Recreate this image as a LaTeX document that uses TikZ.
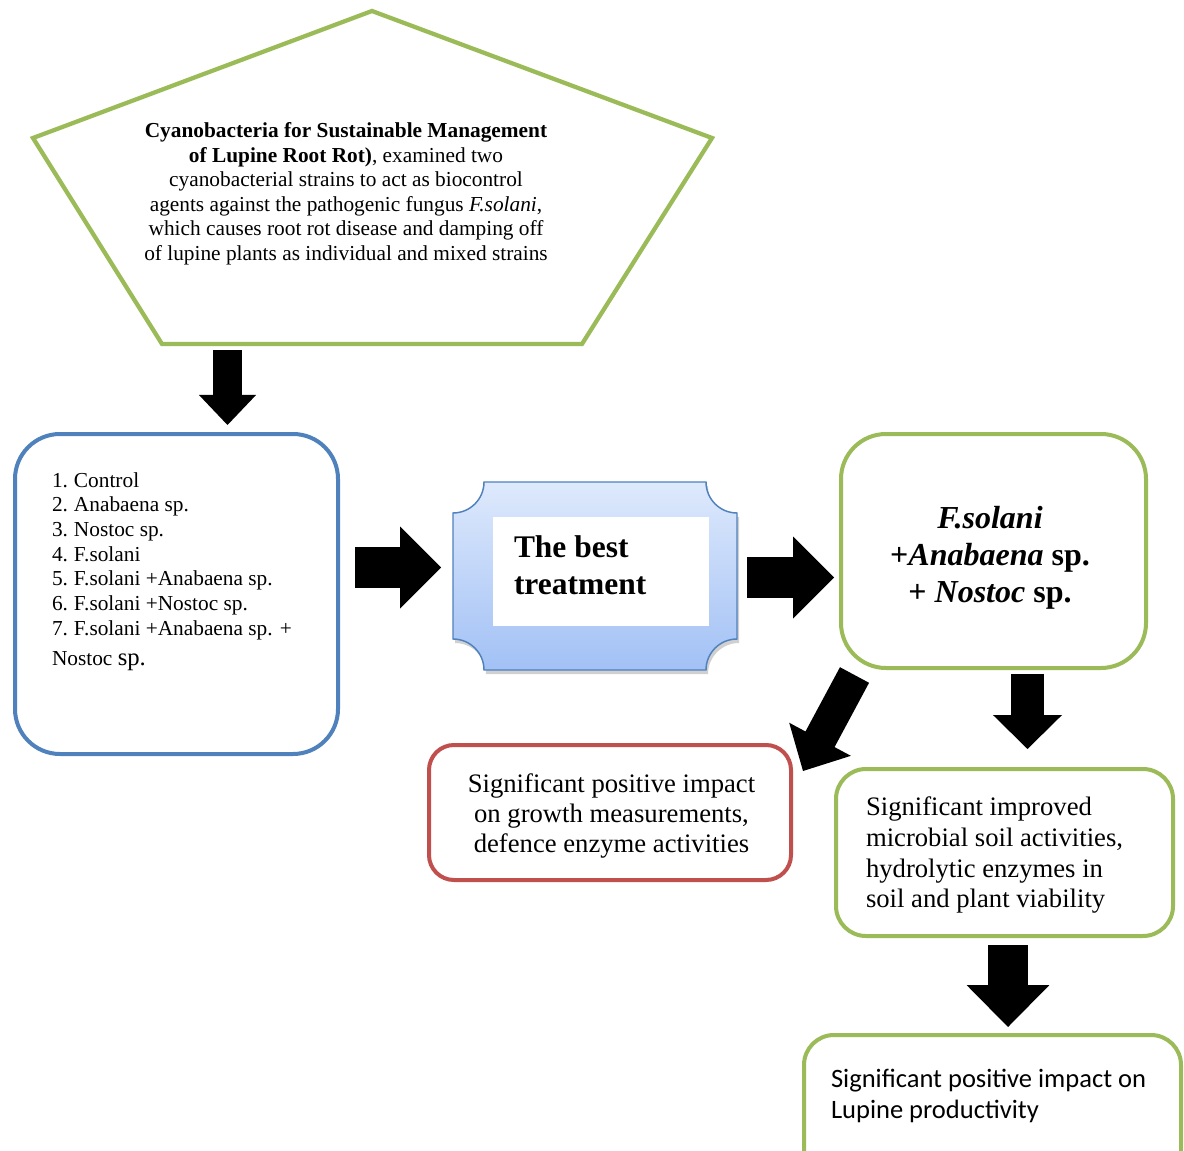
\documentclass[tikz,border=0pt]{standalone}
\usepackage{fontspec}
\setmainfont{Liberation Serif}
\newfontfamily\calibrifont{Carlito}
\usetikzlibrary{calc,shadows}
\definecolor{cgreen}{HTML}{9BBB59}
\definecolor{cblue}{HTML}{4F81BD}
\definecolor{cred}{HTML}{C0504D}
\definecolor{ptop}{HTML}{DEE9FC}
\definecolor{pbot}{HTML}{A2C1F5}
% start, tip, shaft width, half head width, head length
\newcommand{\blkarrow}[5]{%
  \coordinate (fa-h) at ($(#2)!#5!(#1)$);
  \fill[black] (#2) -- ($(fa-h)!#4!90:(#2)$) -- ($(fa-h)!#4!-90:(#2)$) -- cycle;
  \draw[line width=#3, black] (#1) -- ($(fa-h)!-0.6pt!(#1)$);
}
\begin{document}
\begin{tikzpicture}[x=0.75pt,y=-0.75pt,
  txt/.style={inner sep=0pt, outer sep=0pt},
  gbox/.style={draw=cgreen, line width=3pt, inner sep=0pt},
  bbox/.style={draw=cblue, line width=3pt, inner sep=0pt},
  rbox/.style={draw=cred, line width=3pt, inner sep=0pt},
  pent/.style={draw=cgreen, line width=3.2pt, line join=miter}]
\useasboundingbox (0,0) rectangle (1184,1151);
\clip (0,0) rectangle (1184,1151);
\fill[white] (0,0) rectangle (1184,1151);

% pentagon
\draw[pent] (372,11) -- (712,138) -- (582,344) -- (162,344) -- (33,138) -- cycle;
\node[txt, anchor=north, align=center, font=\fontsize{16}{18.4}\selectfont] (intro) at (346,122.5)
 {\textbf{Cyanobacteria for Sustainable Management}\\
  \textbf{of Lupine Root Rot)}, examined two\\
  cyanobacterial strains to act as biocontrol\\
  agents against the pathogenic fungus \textit{F.solani},\\
  which causes root rot disease and damping off\\
  of lupine plants as individual and mixed strains};

% list box
\node[bbox, minimum width=242.25pt, minimum height=240pt, rounded corners=33.75pt] (list) at (176.5,594) {};
\node[txt, anchor=north west, align=left, font=\fontsize{16}{18.5}\selectfont] (listtxt) at (52,472.5)
 {\makebox[16.5pt][l]{1.}Control\\
  \makebox[16.5pt][l]{2.}Anabaena sp.\\
  \makebox[16.5pt][l]{3.}Nostoc sp.\\
  \makebox[16.5pt][l]{4.}F.solani\\
  \makebox[16.5pt][l]{5.}F.solani +Anabaena sp.\\
  \makebox[16.5pt][l]{6.}F.solani +Nostoc sp.\\
  \makebox[16.5pt][l]{7.}F.solani +Anabaena sp. +\\[4pt]
  Nostoc {\fontsize{18.5}{20}\selectfont sp.}};

% best treatment plaque
\path[draw=cblue, line width=1.1pt, top color=ptop, bottom color=pbot,
      drop shadow={shadow xshift=1.5pt, shadow yshift=-3pt, opacity=0.3, fill=black!60}]
  (484,482) -- (706,482) .. controls (706,499.1) and (719.9,513) .. (737,513)
  -- (737,639) .. controls (719.9,639) and (706,652.9) .. (706,670)
  -- (484,670) .. controls (484,652.9) and (470.1,639) .. (453,639)
  -- (453,513) .. controls (470.1,513) and (484,499.1) .. (484,482) -- cycle;
\node[fill=white, inner sep=0pt, minimum width=162pt, minimum height=81.75pt] (bestin) at (601,571.5) {};
\node[txt, anchor=north west, align=left, font=\fontsize{23.6}{27.75}\selectfont\bfseries] (besttxt) at (514,535.5)
 {The best\\treatment};

% result box
\node[gbox, minimum width=228.75pt, minimum height=175.5pt, rounded corners=33.75pt] (res) at (993.5,551) {};
\node[txt, anchor=north, align=center, font=\fontsize{24}{27.75}\selectfont\bfseries] (restxt) at (990,506)
 {\textit{F.solani}\\+\textit{Anabaena} sp.\\+ \textit{Nostoc} sp.};

% red box
\node[rbox, minimum width=271.5pt, minimum height=101.25pt, rounded corners=18.75pt] (growth) at (610,812.5) {};
\node[txt, anchor=north, align=center, font=\fontsize{20}{22.5}\selectfont] (growthtxt) at (611.5,774)
 {Significant positive impact\\on growth measurements,\\defence enzyme activities};

% soil box
\node[gbox, minimum width=252.75pt, minimum height=125.25pt, rounded corners=22.5pt] (soil) at (1004.5,852.5) {};
\node[txt, anchor=north west, align=left, font=\fontsize{20}{23}\selectfont] (soiltxt) at (866,797)
 {Significant improved\\microbial soil activities,\\hydrolytic enzymes in\\soil and plant viability};

% productivity box
\node[gbox, minimum width=282.75pt, minimum height=108.75pt, rounded corners=22.5pt] (prod) at (992.5,1107.5) {};
\node[txt, anchor=north west, align=left, font=\calibrifont\fontsize{19.9}{23.25}\selectfont] (prodtxt) at (831,1069.5)
 {Significant positive impact on\\Lupine productivity};

% arrows
\coordinate (a1s) at (227.5,350);  \coordinate (a1t) at (227.5,425);
\coordinate (a2s) at (355,567.5);  \coordinate (a2t) at (441,567.5);
\coordinate (a3s) at (747,577.5);  \coordinate (a3t) at (834,577.5);
\coordinate (a4s) at (854.5,675);  \coordinate (a4t) at (803,771);
\coordinate (a5s) at (1027.5,674); \coordinate (a5t) at (1027.5,749);
\coordinate (a6s) at (1008,945);   \coordinate (a6t) at (1008,1027);
\blkarrow{a1s}{a1t}{21.75pt}{21.4pt}{22.5pt}
\blkarrow{a2s}{a2t}{30.75pt}{30.75pt}{30.75pt}
\blkarrow{a3s}{a3t}{30.75pt}{30.75pt}{30.75pt}
\blkarrow{a4s}{a4t}{24.75pt}{26.25pt}{27pt}
\blkarrow{a5s}{a5t}{24.75pt}{25.9pt}{25.5pt}
\blkarrow{a6s}{a6t}{30pt}{31.1pt}{31.5pt}
\end{tikzpicture}
\end{document}
